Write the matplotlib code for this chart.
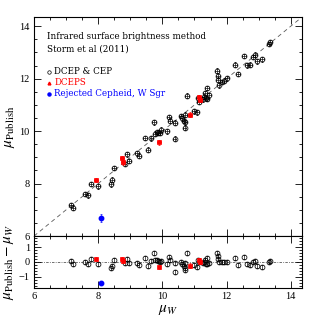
import numpy as np
import matplotlib
matplotlib.use("Agg")
import matplotlib.pyplot as plt
from matplotlib.ticker import MultipleLocator

plt.rcParams['mathtext.fontset'] = 'stix'
plt.rcParams['font.family'] = 'Liberation Serif'

# DCEP & CEP: mu_W and residual (mu_Publish - mu_W)
cep_muW = [7.14, 7.21, 7.60, 7.67, 7.77, 8.00, 8.39, 8.44, 8.48, 8.82, 8.90, 8.95,
           9.20, 9.27, 9.47, 9.54, 9.66, 9.74, 9.77, 9.82, 9.87, 9.93, 9.97, 10.15,
           10.21, 10.24, 10.38, 10.39, 10.58, 10.62, 10.66, 10.69, 10.72, 10.70, 10.77,
           10.98, 11.08, 11.12, 11.14, 11.28, 11.31, 11.34, 11.36, 11.38, 11.40, 11.44,
           11.71, 11.73, 11.74, 11.75, 11.87, 11.93, 12.01, 12.26, 12.36, 12.54, 12.64,
           12.72, 12.83, 12.88, 12.95, 13.10, 13.32, 13.35]
cep_res = [0.04, -0.13, 0.00, -0.11, 0.22, -0.11, -0.42, -0.29, 0.11, -0.07, 0.22, -0.09,
           -0.04, -0.20, 0.27, -0.24, 0.07, 0.60, 0.13, 0.13, 0.07, 0.00, 0.09, -0.16,
           0.33, 0.16, -0.67, -0.07, 0.00, -0.13, -0.27, -0.56, -0.38, -0.07, 0.58,
           -0.22, -0.36, 0.13, -0.02, -0.07, 0.00, 0.11, -0.11, 0.27, -0.16, -0.07,
           0.60, 0.38, 0.22, 0.00, 0.00, 0.00, 0.00, 0.27, -0.18, 0.33, -0.13,
           -0.18, 0.00, 0.04, -0.29, -0.36, 0.00, 0.04]

# DCEPS
dceps_muW = [7.94, 8.74, 8.76, 9.90, 10.87, 11.14, 11.17]
dceps_res = [0.20, 0.22, 0.05, -0.32, -0.24, 0.15, 0.02]

# Rejected Cepheid, W Sgr
wsgr_muW = [8.10]
wsgr_res = [-1.40]

cep_muW = np.array(cep_muW); cep_res = np.array(cep_res)
dceps_muW = np.array(dceps_muW); dceps_res = np.array(dceps_res)
wsgr_muW = np.array(wsgr_muW); wsgr_res = np.array(wsgr_res)
cep_pub = cep_muW + cep_res
dceps_pub = dceps_muW + dceps_res
wsgr_pub = wsgr_muW + wsgr_res

fig = plt.figure(figsize=(3.19, 3.19), dpi=100)
ax = fig.add_axes([0.1066, 0.260, 0.840, 0.6865])
axr = fig.add_axes([0.1066, 0.0972, 0.840, 0.163], sharex=ax)

lim = (6.0, 14.35)
ax.plot(lim, lim, ls=(0, (5, 4)), color='0.35', lw=0.6, zorder=1)

eb = dict(capsize=1.0, elinewidth=0.45, capthick=0.45, linestyle='none')
ax.errorbar(cep_muW, cep_pub, xerr=0.06, yerr=0.09, marker='o', ms=3.5, mfc='none',
            mec='black', mew=0.55, ecolor='black', **eb, zorder=3)
ax.errorbar(dceps_muW, dceps_pub, xerr=0.06, yerr=0.09, marker='s', ms=2.4, mfc='red',
            mec='red', mew=0.5, ecolor='red', **eb, zorder=4)
ax.errorbar(wsgr_muW, wsgr_pub, xerr=0.06, yerr=0.16, marker='o', ms=3.2, mfc='blue',
            mec='blue', ecolor='blue', **eb, zorder=4)

axr.axhline(0, color='0.35', lw=0.6, ls=(0, (3, 1.5, 1, 1.5)), zorder=1)
axr.errorbar(cep_muW, cep_res, yerr=0.14, marker='o', ms=3.5, mfc='none',
             mec='black', mew=0.55, ecolor='black', **eb, zorder=3)
axr.errorbar(dceps_muW, dceps_res, yerr=0.14, marker='s', ms=2.4, mfc='red',
             mec='red', mew=0.5, ecolor='red', **eb, zorder=4)
axr.errorbar(wsgr_muW, wsgr_res, yerr=0.14, marker='o', ms=3.2, mfc='blue',
             mec='blue', ecolor='blue', **eb, zorder=4)

ax.set_xlim(*lim)
ax.set_ylim(*lim)
axr.set_ylim(-1.75, 1.75)

for a in (ax, axr):
    a.xaxis.set_major_locator(MultipleLocator(2))
    a.xaxis.set_minor_locator(MultipleLocator(0.5))
    a.tick_params(which='both', direction='in', top=True, right=True, labelsize=7.5,
                  width=0.6, pad=3)
    a.tick_params(which='major', length=5)
    a.tick_params(which='minor', length=2.5)
    for s in a.spines.values():
        s.set_linewidth(0.8)
ax.yaxis.set_major_locator(MultipleLocator(2))
ax.yaxis.set_minor_locator(MultipleLocator(0.5))
axr.yaxis.set_major_locator(MultipleLocator(1))
axr.yaxis.set_minor_locator(MultipleLocator(0.2))
ax.tick_params(labelbottom=False)
axr.set_yticks([-1, 0, 1])
axr.set_yticklabels(['\u22121', '0', '1'])

ax.set_ylabel(r'$\mu_{\rm Publish}$', fontsize=11, labelpad=2)
axr.set_ylabel(r'$\mu_{\rm Publish} - \mu_W$', fontsize=11, labelpad=2)
axr.set_xlabel(r'$\mu_W$', fontsize=11, labelpad=1)

tf = 'DejaVu Serif'
fs = 6.35
ax.text(0.05, 0.91, 'Infrared surface brightness method', transform=ax.transAxes,
        family=tf, fontsize=fs, va='center')
ax.text(0.05, 0.855, 'Storm et al (2011)', transform=ax.transAxes,
        family=tf, fontsize=fs, va='center')
lx = 0.055
ax.plot([lx], [0.75], transform=ax.transAxes, marker='o', ms=2.5, mfc='none', mec='black', mew=0.5)
ax.text(0.075, 0.75, 'DCEP & CEP', transform=ax.transAxes, family=tf, fontsize=fs, va='center')
ax.plot([lx], [0.70], transform=ax.transAxes, marker='^', ms=2, mfc='red', mec='red')
ax.text(0.075, 0.70, 'DCEPS', transform=ax.transAxes, family=tf, fontsize=fs, va='center', color='red')
ax.plot([lx], [0.65], transform=ax.transAxes, marker='o', ms=2.2, mfc='blue', mec='blue')
ax.text(0.075, 0.65, 'Rejected Cepheid, W Sgr', transform=ax.transAxes, family=tf, fontsize=fs,
        va='center', color='blue')

fig.savefig('out.png', dpi=100)
